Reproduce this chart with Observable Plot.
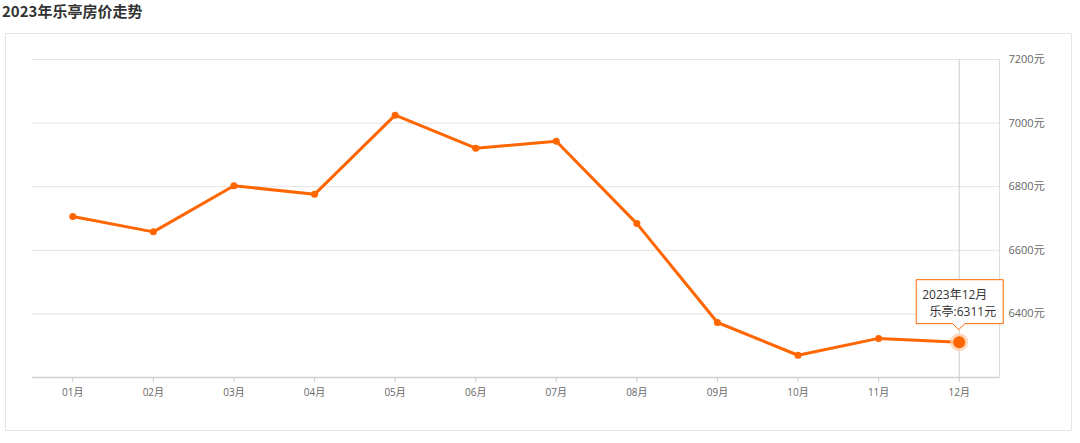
<!DOCTYPE html>
<html>
<head>
<meta charset="utf-8">
<script src="https://cdn.jsdelivr.net/npm/d3@7"></script>
<script src="https://cdn.jsdelivr.net/npm/@observablehq/plot@0.6"></script>
<style>
  html, body { margin: 0; padding: 0; background: #fff; }
  body { width: 1080px; height: 443px; position: relative; overflow: hidden; font-family: "Open Sans", "Noto Sans CJK SC", sans-serif; }
  #title { position: absolute; left: 2px; top: 1px; font-family: "Noto Sans CJK SC", sans-serif; font-weight: bold; font-size: 15px; color: #333; line-height: 20px; }
  #card { position: absolute; left: 5px; top: 33px; width: 1067px; height: 398px; border: 1px solid #e6e6e6; box-sizing: border-box; }
  #chart { position: absolute; left: 0; top: 33px; }
</style>
</head>
<body>
<div id="title">2023年乐亭房价走势</div>
<div id="card"></div>
<div id="chart"></div>
<script>
const months = ["01月","02月","03月","04月","05月","06月","07月","08月","09月","10月","11月","12月"];
const prices = [6706, 6658, 6803, 6776, 7025, 6921, 6943, 6684, 6373, 6270, 6323, 6311];
const yTicks = [6400, 6600, 6800, 7000, 7200];
const yDomain = [6200, 7200];
const seriesName = "乐亭";
const tipTitle = "2023年12月";
const unit = "元";

(function () {
  const data = months.map((m, i) => ({month: m, price: prices[i]}));
  const last = data[data.length - 1];
  const orange = "#ff6600";

  const chart = Plot.plot({
    width: 1080,
    height: 400,
    marginLeft: 32,
    marginRight: 81,
    marginTop: 26,
    marginBottom: 56,
    style: {fontFamily: "'Open Sans', 'Noto Sans CJK SC', sans-serif", background: "transparent"},
    x: {type: "point", domain: months, padding: 0.5, round: false, label: null},
    y: {domain: yDomain, label: null},
    marks: [
      Plot.ruleY(yTicks, {stroke: "#e3e3e3", strokeWidth: 1}),
      Plot.ruleY([yDomain[0]], {stroke: "#d0d0d0", strokeWidth: 1.5}),
      Plot.frame({anchor: "right", stroke: "#dcdcdc"}),
      Plot.ruleX([last.month], {stroke: "#cccccc", strokeWidth: 1}),
      Plot.axisX({tickSize: 5, stroke: "#cccccc", tickPadding: 6, fontSize: 10, fill: "#666"}),
      Plot.axisY({anchor: "right", ticks: yTicks, tickSize: 0, tickPadding: 9, fontSize: 11, fill: "#666", tickFormat: d => d + unit}),
      Plot.line(data, {x: "month", y: "price", stroke: orange, strokeWidth: 3, strokeLinejoin: "round"}),
      Plot.dot(data, {x: "month", y: "price", r: 3.5, fill: orange, stroke: "none"}),
      Plot.dot([last], {x: "month", y: "price", r: 9, fill: "#ffcfae", fillOpacity: 0.8, stroke: "none"}),
      Plot.dot([last], {x: "month", y: "price", r: 6, fill: orange, stroke: "none"})
    ]
  });
  document.getElementById("chart").appendChild(chart);

  // tooltip anchored to the last data point via the plot's scales
  const svg = d3.select(chart);
  const px = chart.scale("x").apply(last.month);
  const py = chart.scale("y").apply(last.price);
  const bw = 87, bh = 44, gap = 12, tri = 6;
  const bx0 = px - 42.5, bx1 = bx0 + bw, by1 = py - gap - tri, by0 = by1 - bh;
  const g = svg.append("g");
  g.append("path")
    .attr("d", `M${bx0},${by0} H${bx1} V${by1} H${px + tri} L${px},${by1 + tri} L${px - tri},${by1} H${bx0} Z`)
    .attr("fill", "#fff").attr("fill-opacity", 0.95)
    .attr("stroke", orange).attr("stroke-width", 1);
  g.append("text").attr("x", bx0 + 6).attr("y", by0 + 19).attr("text-anchor", "start")
    .attr("font-size", 12).attr("fill", "#333").text(tipTitle);
  g.append("text").attr("x", bx1 - 7).attr("y", by0 + 36).attr("text-anchor", "end")
    .attr("font-size", 12).attr("fill", "#333").text(`${seriesName}:${last.price}${unit}`);
})();
</script>
</body>
</html>
